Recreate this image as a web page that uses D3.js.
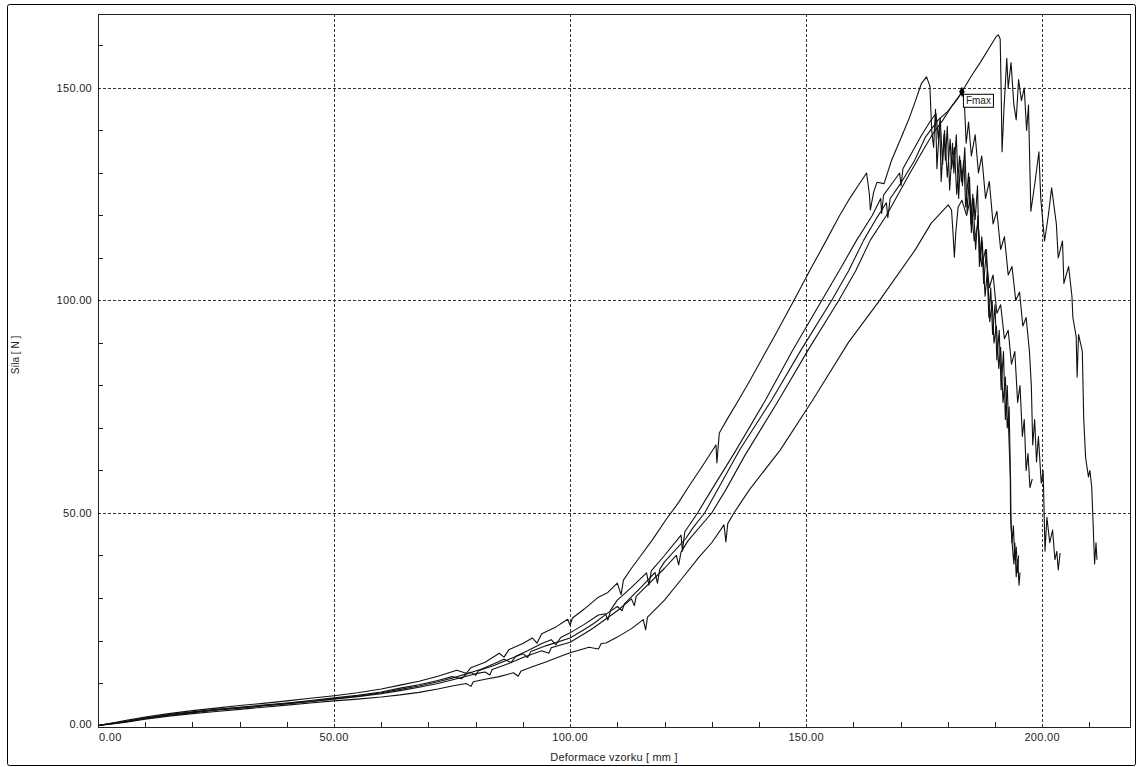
<!DOCTYPE html>
<html><head><meta charset="utf-8">
<script src="https://cdn.jsdelivr.net/npm/d3@7/dist/d3.min.js"></script>
<style>
body{margin:0;background:#fff;}
svg text{font-family:"Liberation Sans",Arial,sans-serif;fill:#222;}
</style></head>
<body>
<svg id="chart" width="1137" height="767"></svg>
<script>
// ---- data (deformation mm, force N) ----
const xTicks = [0, 50, 100, 150, 200];
const yTicks = [0, 50, 100, 150];
const xTickLabels = ["0.00", "50.00", "100.00", "150.00", "200.00"];
const yTickLabels = ["0.00", "50.00", "100.00", "150.00"];
const xTitle = "Deformace vzorku [ mm ]";
const yTitle = "Síla [ N ]";
const fmaxPoint = [183, 149.1];
const fmaxLabel = "Fmax";

const curveA = [[0,0],[3,0.6],[6,1.2],[10,2.0],[15,2.8],[20,3.5],[25,4.1],[30,4.7],[35,5.2],[40,5.8],[45,6.4],[50,7.0],[55,7.7],[60,8.6],[64,9.5],[68,10.4],[72,11.6],[76,13.0],[78,12.3],[79,13.6],[82,14.9],[85,17.0],[86,16.1],[87,17.8],[90,19.3],[92,20.6],[93,19.4],[94,21.6],[97,23.2],[99.5,25.0],[100,23.6],[100.5,25.3],[103,27.4],[106,30.2],[108,31.3],[110,33.5],[110.8,30.8],[111.3,34.2],[113,37.0],[115,40.0],[117.5,43.8],[120.3,48.4],[123,52.5],[125,56],[128,61],[130.9,66],[131.1,61.8],[131.6,68.8],[133.5,72.5],[135.7,76.6],[138,81],[140,85],[143.5,92],[147.4,100],[151,107.5],[154.3,114.2],[157,119.8],[159,123.6],[161,127],[162.8,130],[163.4,125],[163.6,121.3],[164.3,125.5],[165,127.8],[166.5,127.5],[168.1,133],[170,138],[171.7,142.5],[173,146.5],[174.4,151],[175.5,152.6],[176.2,150.5],[176.6,140],[177,136],[177.4,145],[177.7,131],[178.3,142],[178.6,128],[179.2,139],[179.5,133],[179.9,141],[180.4,126],[181,137],[181.3,130],[181.8,139],[182.3,124],[182.7,133],[183.1,127],[183.6,136],[184.1,121],[184.6,129],[185,116],[185.5,124],[185.8,119],[186.3,127],[186.7,108],[187.2,115],[187.6,104],[188.2,112],[188.7,96],[189.1,103],[189.5,92],[190,99],[190.4,86],[190.9,93],[191.3,79],[191.8,88],[192.2,72],[192.6,80],[193,66],[193.3,58],[193.4,47],[193.7,42],[194,38],[194.2,43],[194.5,35],[194.8,39],[195.1,33],[195.3,36]];

const curveB = [[0,0],[3,0.5],[6,1.0],[10,1.8],[15,2.6],[20,3.2],[25,3.8],[30,4.3],[35,4.8],[40,5.3],[45,5.9],[50,6.5],[55,7.1],[60,7.9],[64,8.8],[68,9.6],[72,10.6],[75,11.5],[77,11.0],[78,12.1],[81,13.2],[84,14.6],[86,15.6],[87.5,14.8],[88.5,16.3],[91,17.6],[94,19.3],[96,20.2],[97,19.0],[98,20.7],[100,21.8],[103,23.8],[106,26],[107.5,26.3],[108,24.8],[108.6,27.2],[110,29.5],[113,32.5],[116.2,35.9],[116.7,33],[117.2,36.4],[120,40],[123.5,44.8],[123.8,41],[124.3,45.6],[127,50],[130,55.5],[135,64.5],[141.4,76.6],[147,88],[153.3,100],[157,107],[160.7,114.2],[164,120],[165.8,124],[166,120.5],[166.4,124.8],[168.5,128],[169.8,130],[170.1,127],[170.5,131],[172.5,135],[174.5,139],[176.2,142],[177.5,144],[178,138],[178.4,143],[178.9,132],[179.3,140],[179.9,129],[180.5,138],[180.8,131],[181.4,136],[181.9,125],[182.5,134],[182.9,128],[183.4,133],[183.8,122],[184.4,130],[184.9,118],[185.3,125],[185.9,112],[186.4,120],[186.8,109],[187.3,114],[187.9,101],[188.4,107],[188.9,95],[189.4,100],[189.8,90],[190.3,94],[190.8,84],[191.2,89],[191.7,76],[192.2,82],[192.6,70],[193,75],[193.2,63],[193.3,50],[193.6,43],[193.9,47],[194.2,39],[194.5,42],[194.8,36],[195,40]];

const curveC = [[0,0],[3,0.5],[6,0.95],[10,1.7],[15,2.5],[20,3.1],[25,3.7],[30,4.2],[35,4.7],[40,5.2],[45,5.7],[50,6.3],[55,6.9],[60,7.7],[64,8.5],[68,9.3],[72,10.3],[75,11.1],[79,12.5],[80,11.8],[80.6,12.9],[84,14.2],[88,16.0],[90,16.9],[91,16.0],[91.7,17.4],[95,18.8],[100,20.6],[103,22.6],[105,24],[108,26.5],[110,28],[111,27],[111.5,28.6],[115,32.5],[118,36],[118.5,33.5],[119,36.8],[120,38.5],[124.5,44],[126,46.5],[128.5,50],[132,57],[136,65],[142.7,76.6],[149,88.5],[155.4,100],[159,107],[162.2,114.2],[165,119.5],[167,123],[167.3,119.5],[167.8,124],[170,127.5],[173,133],[175.3,138.5],[178,142.5],[180,144.5],[182,147.3],[183,149.1],[185,152.8],[187,156.2],[189,159.8],[190.2,162],[190.7,162.5],[191.1,161.5],[191.3,150],[191.5,135],[191.9,145],[192.5,157],[192.8,150],[193.4,156],[194,146],[194.5,142.5],[195,152],[195.6,147],[196.2,150],[196.7,140],[197.1,146],[197.4,130.7],[197.6,121],[198.5,128],[199.3,135],[199.7,124],[200.5,114],[201.3,120],[202,126.5],[203,118],[203.4,110],[204.3,114],[204.6,104],[205.6,108],[206.3,101],[206.5,96],[207.2,91.5],[207.4,82],[207.7,92],[208.5,88],[208.8,72],[209.2,63],[209.8,58.5],[210.1,60],[210.5,56],[210.7,50],[211.1,38],[211.4,43],[211.6,39]];

const curveD = [[0,0],[3,0.45],[6,0.9],[10,1.65],[15,2.4],[20,3.0],[25,3.6],[30,4.1],[35,4.6],[40,5.1],[45,5.6],[50,6.2],[55,6.8],[60,7.5],[64,8.2],[68,9.0],[72,9.9],[76,11.0],[80,12.2],[82,12.6],[83,11.9],[83.5,13.2],[87,14.6],[90,16.0],[94,17.6],[95.5,17.0],[96,18.3],[100,19.6],[103,21.6],[105,23],[110,27],[113,29.8],[113.6,28.2],[114,30.4],[115,31.5],[120,37],[122.5,40],[123,37.8],[123.5,40.8],[125,43.5],[130,50],[133,55.5],[137,63.5],[144.2,76.6],[150.5,88.5],[156.9,100],[160.5,107],[163.6,114.2],[167,120],[170,126],[172,130],[174.8,135.4],[177,139.5],[179,142.5],[181,146],[183,149],[183.5,147],[183.9,137],[184.4,142],[185,134],[185.8,139],[186.5,130],[187.2,134],[188,124],[188.8,128],[189.6,118],[190.4,121],[191.2,112],[192,115],[192.8,106],[193.6,108],[194.4,100],[195.2,102],[195.9,94],[196.6,96],[197.3,88],[197.7,80],[198,66],[198.4,72],[198.8,62],[199.2,68],[199.8,57],[200.2,60],[200.6,41],[201,49],[201.6,43],[202.2,46],[202.7,39],[203.1,41],[203.4,36.6],[203.8,40.6]];

const curveE = [[0,0],[3,0.35],[6,0.8],[10,1.5],[15,2.2],[20,2.8],[25,3.3],[30,3.8],[35,4.3],[40,4.8],[45,5.3],[50,5.8],[55,6.2],[60,6.7],[64,7.2],[68,7.8],[72,8.6],[75,9.3],[78,9.9],[79,9.2],[79.5,10.3],[82,10.9],[85,11.5],[88,12.4],[89,11.6],[89.6,12.8],[92,13.8],[95,15],[98,16.3],[100,17.1],[104,18.4],[106,18.0],[106.6,19.3],[107.6,19.4],[110,20.8],[113,22.8],[115.5,24.9],[116,22.5],[116.4,25.5],[120,29.5],[124,35],[127.3,39.6],[130,43],[132.6,47.2],[133,43.2],[133.4,47.5],[134.7,50],[138,55.5],[144.5,64.8],[151.4,76.6],[159,90.2],[165.3,99.6],[173.1,111.9],[176.5,118.2],[180.1,122.5],[180.8,121.3],[181.1,116],[181.4,110.2],[181.7,116],[182.2,122],[183,123.6],[184,120],[184.8,124],[185.6,114],[186.4,118],[187.2,108],[188,112],[188.8,103],[189.6,106],[190.4,97],[191.2,99],[192,91],[192.8,93],[193.5,85],[194.2,88],[194.8,76],[195.3,80],[195.8,68],[196.2,72],[196.6,60],[197,64],[197.4,56],[197.9,58]];

const curves = [curveA, curveB, curveC, curveD, curveE];

// ---- layout ----
const svg = d3.select("#chart");
const plot = {left: 98, right: 1130, top: 14, bottom: 727};
const x = d3.scaleLinear().domain([0, 218.6]).range([plot.left, plot.right]);
const y = d3.scaleLinear().domain([-0.35, 167.4]).range([plot.bottom, plot.top]);

// outer frame
svg.append("rect").attr("x", 7.5).attr("y", 4.5).attr("width", 1128).attr("height", 761)
  .attr("rx", 2).attr("fill", "none").attr("stroke", "#000").attr("stroke-width", 1);

// grid
const grid = svg.append("g").attr("stroke", "#333").attr("stroke-width", 1).attr("stroke-dasharray", "3,2");
xTicks.filter(d => d > 0).forEach(d => {
  grid.append("line").attr("x1", Math.round(x(d)) + 0.5).attr("x2", Math.round(x(d)) + 0.5)
    .attr("y1", plot.top).attr("y2", plot.bottom);
});
yTicks.filter(d => d > 0).forEach(d => {
  grid.append("line").attr("y1", Math.round(y(d)) + 0.5).attr("y2", Math.round(y(d)) + 0.5)
    .attr("x1", plot.left).attr("x2", plot.right);
});

// minor ticks (inside)
const minorX = d3.range(10, 219, 10).filter(d => d % 50 !== 0);
const minorY = d3.range(10, 168, 10).filter(d => d % 50 !== 0);
const tk = svg.append("g").attr("stroke", "#222").attr("stroke-width", 1);
minorX.forEach(d => tk.append("line").attr("x1", Math.round(x(d)) + 0.5).attr("x2", Math.round(x(d)) + 0.5)
  .attr("y1", plot.bottom).attr("y2", plot.bottom - 5));
minorY.forEach(d => tk.append("line").attr("y1", Math.round(y(d)) + 0.5).attr("y2", Math.round(y(d)) + 0.5)
  .attr("x1", plot.left).attr("x2", plot.left + 5));

// plot box
svg.append("rect").attr("x", plot.left + 0.5).attr("y", plot.top + 0.5)
  .attr("width", plot.right - plot.left).attr("height", plot.bottom - plot.top)
  .attr("fill", "none").attr("stroke", "#222").attr("stroke-width", 1);

// tick labels
const lab = svg.append("g").attr("font-size", "11px").attr("letter-spacing", "0.3px");
xTicks.forEach((d, i) => {
  const t = lab.append("text").attr("y", 741).text(xTickLabels[i]);
  if (i === 0) t.attr("x", x(d) + 1).attr("text-anchor", "start");
  else t.attr("x", x(d)).attr("text-anchor", "middle");
});
yTicks.forEach((d, i) => {
  lab.append("text").attr("x", 92).attr("y", (i === 0 ? y(d) - 2 : y(d)) + 4)
    .attr("text-anchor", "end").text(yTickLabels[i]);
});

// axis titles
svg.append("text").attr("x", (plot.left + plot.right) / 2).attr("y", 761)
  .attr("text-anchor", "middle").attr("font-size", "11px").attr("letter-spacing", "0.2px").text(xTitle);
svg.append("text").attr("transform", "translate(19,355) rotate(-90)")
  .attr("text-anchor", "middle").attr("font-size", "10px").text(yTitle);

// curves
const line = d3.line().x(d => x(d[0])).y(d => y(d[1]));
const cg = svg.append("g");
curves.forEach(c => {
  cg.append("path").datum(c).attr("d", line).attr("fill", "none")
    .attr("stroke", "#111").attr("stroke-width", 1.1).attr("stroke-linejoin", "round");
});

// Fmax marker
const fx = x(fmaxPoint[0]), fy = y(fmaxPoint[1]);
svg.append("path").attr("d", d3.symbol().type(d3.symbolDiamond).size(28)())
  .attr("transform", `translate(${fx},${fy})`).attr("fill", "#000");
const fg = svg.append("g");
fg.append("rect").attr("x", fx + 1.5).attr("y", fy + 2.5).attr("width", 30).attr("height", 13)
  .attr("fill", "#fff").attr("stroke", "#000").attr("stroke-width", 1);
fg.append("text").attr("x", fx + 16.5).attr("y", fy + 12.5).attr("text-anchor", "middle")
  .attr("font-size", "10px").text(fmaxLabel);
</script>
</body></html>
